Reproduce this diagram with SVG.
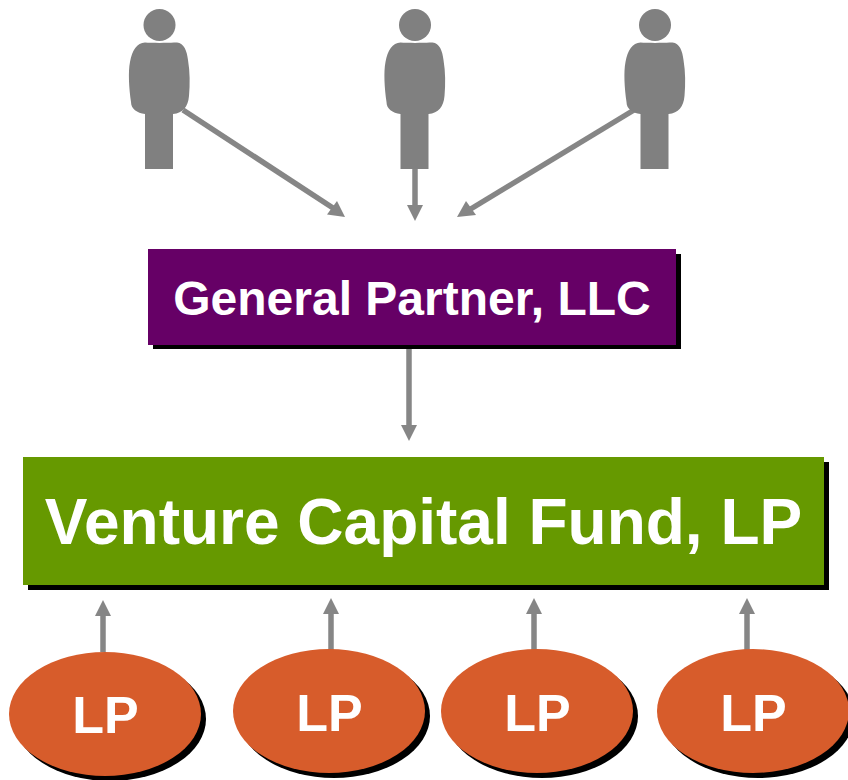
<svg xmlns="http://www.w3.org/2000/svg" width="848" height="780" viewBox="0 0 848 780">
<style>
text{font-family:"Liberation Sans",Arial,sans-serif;font-weight:bold;fill:#fff;text-anchor:middle}
.c{stroke:#868686;stroke-width:5.500;fill:none}
.h{fill:#868686}
.p{fill:#808080}
.s{fill:#000}
.lp{fill:#d75c2b}
.l{font-size:52px}
</style>
<defs>
<g id="person">
<circle cx="159.500" cy="25" r="16"/>
<path d="M145,42.500 C152,43 167,43 174,42.500 L177,42.500 C184,43 187,51 188,60 C190,72 190,84 189,96 C188,107 183,113 173,114 L173,169 L145,169 L145,114 C137,113 131,109 131,102 C129,88 128,72 130,62 C132,50 137,43 145,42.500 Z"/>
</g>
</defs>
<rect width="848" height="780" fill="#fff"/>
<g id="connectors">
<path class="c" d="M183,110 L333,208"/><path class="h" d="M345,217 L327,214.500 L337,201 Z"/>
<path class="c" d="M415,168 L415,207"/><path class="h" d="M415,221 L407,205 L423,205 Z"/>
<path class="c" d="M634,110 L469,210"/><path class="h" d="M457,217 L466,201 L476,215 Z"/>
<path class="c" d="M409,349 L409,427"/><path class="h" d="M409,441 L401,425 L417,425 Z"/>
<path class="c" d="M103,652 L103,613"/><path class="h" d="M103,600 L95,616 L111,616 Z"/>
<path class="c" d="M331,650 L331,612"/><path class="h" d="M331,598 L323,614 L339,614 Z"/>
<path class="c" d="M534,650 L534,612"/><path class="h" d="M534,598 L526,614 L542,614 Z"/>
<path class="c" d="M747,650 L747,612"/><path class="h" d="M747,598 L739,614 L755,614 Z"/>
</g>
<g id="person-1" class="p"><use href="#person"/></g>
<g id="person-2" class="p"><use href="#person" x="255.500"/></g>
<g id="person-3" class="p"><use href="#person" x="495.500"/></g>
<g id="general-partner">
<rect class="s" x="153" y="254" width="528" height="95"/>
<rect x="148" y="249" width="528" height="96" fill="#660066"/>
<text x="412" y="315" font-size="48">General Partner, LLC</text>
</g>
<g id="fund">
<rect class="s" x="28" y="462" width="801" height="128"/>
<rect x="23" y="457" width="801" height="128" fill="#669900"/>
<text x="423.500" y="544" font-size="64">Venture Capital Fund, LP</text>
</g>
<g id="lp-1"><ellipse class="s" cx="110" cy="719" rx="96" ry="62"/><ellipse class="lp" cx="105" cy="714" rx="96" ry="62"/><text class="l" x="105.500" y="733">LP</text></g>
<g id="lp-2"><ellipse class="s" cx="334" cy="716" rx="96" ry="62"/><ellipse class="lp" cx="329" cy="711" rx="96" ry="62"/><text class="l" x="329.500" y="731">LP</text></g>
<g id="lp-3"><ellipse class="s" cx="542" cy="716" rx="96" ry="62"/><ellipse class="lp" cx="537" cy="711" rx="96" ry="62"/><text class="l" x="537.500" y="731">LP</text></g>
<g id="lp-4"><ellipse class="s" cx="758" cy="716" rx="96" ry="62"/><ellipse class="lp" cx="753" cy="711" rx="96" ry="62"/><text class="l" x="753.500" y="731">LP</text></g>
</svg>
